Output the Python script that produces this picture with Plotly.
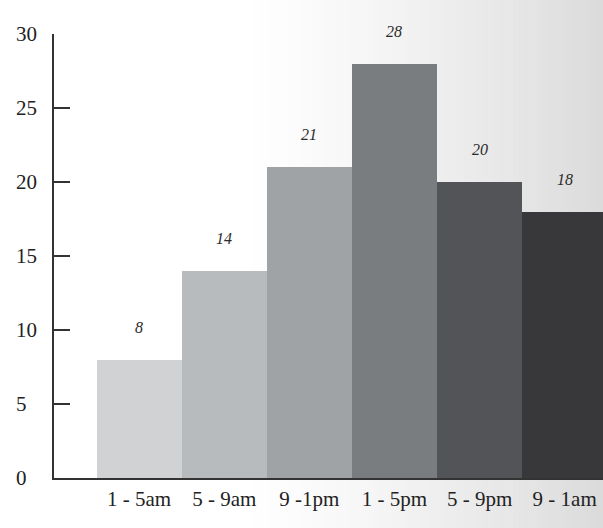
import plotly.graph_objects as go

# Activity counts by four-hour time slot
slots = ["1 - 5am", "5 - 9am", "9 -1pm", "1 - 5pm", "5 - 9pm", "9 - 1am"]
counts = [8, 14, 21, 28, 20, 18]
bar_colors = ["#d0d2d4", "#b8bbbe", "#a0a3a6", "#7a7d80", "#535457", "#38383b"]
y_ticks = [0, 5, 10, 15, 20, 25, 30]

W, H = 603, 528
M_L, M_R, M_T, M_B = 54, 0, 34, 50
SERIF = "Liberation Serif, Times New Roman, serif"

fig = go.Figure()
fig.add_trace(go.Bar(
    x=list(range(len(slots))),
    y=counts,
    marker=dict(color=bar_colors, line=dict(width=0)),
    width=1.0,
    hoverinfo="skip",
))

# Soft grey shading that darkens toward the right edge
plot_w = W - M_L - M_R
n_strips = 60
x0_px, x1_px = 240, W
shapes = []
for k in range(n_strips):
    a = x0_px + (x1_px - x0_px) * k / n_strips
    b = x0_px + (x1_px - x0_px) * (k + 1) / n_strips + 0.5
    t = (k + 0.5) / n_strips
    g = int(round(255 - 36 * t ** 1.3))
    shapes.append(dict(
        type="rect", xref="paper", yref="paper", layer="below",
        x0=(a - M_L) / plot_w, x1=(b - M_L) / plot_w,
        y0=-M_B / (H - M_T - M_B) - 0.01, y1=1 + M_T / (H - M_T - M_B) + 0.01,
        fillcolor=f"rgb({g},{g},{g})", line=dict(width=0),
    ))

annotations = []
# Value labels above each bar
for i, v in enumerate(counts):
    annotations.append(dict(
        x=i, y=v, xref="x", yref="y", text=f"<i>{v}</i>", showarrow=False,
        xanchor="center", yanchor="bottom", yshift=22,
        font=dict(family=SERIF, size=16, color="#2a2a2a"),
    ))
# Left-aligned y tick labels
for t in y_ticks:
    annotations.append(dict(
        x=(14 - M_L) / plot_w, y=t, xref="paper", yref="y", text=str(t),
        showarrow=False, xanchor="left", yanchor="middle",
        font=dict(family=SERIF, size=21, color="#222222"),
    ))

fig.update_layout(
    width=W, height=H,
    margin=dict(l=M_L, r=M_R, t=M_T, b=M_B),
    paper_bgcolor="white", plot_bgcolor="rgba(0,0,0,0)",
    showlegend=False, bargap=0,
    shapes=shapes, annotations=annotations,
    xaxis=dict(
        range=[-1.0, 5.45], tickmode="array",
        tickvals=list(range(len(slots))), ticktext=slots,
        showline=True, linecolor="#333333", linewidth=1.5,
        showgrid=False, zeroline=False, ticks="",
        tickfont=dict(family=SERIF, size=21, color="#222222"),
        ticklabelstandoff=1,
    ),
    yaxis=dict(
        range=[0, 30], tickmode="array", tickvals=y_ticks,
        showticklabels=False,
        ticks="inside", ticklen=16, tickwidth=1.5, tickcolor="#333333",
        showline=True, linecolor="#333333", linewidth=1.5,
        showgrid=False, zeroline=False,
    ),
)

fig.write_html("out.html")
